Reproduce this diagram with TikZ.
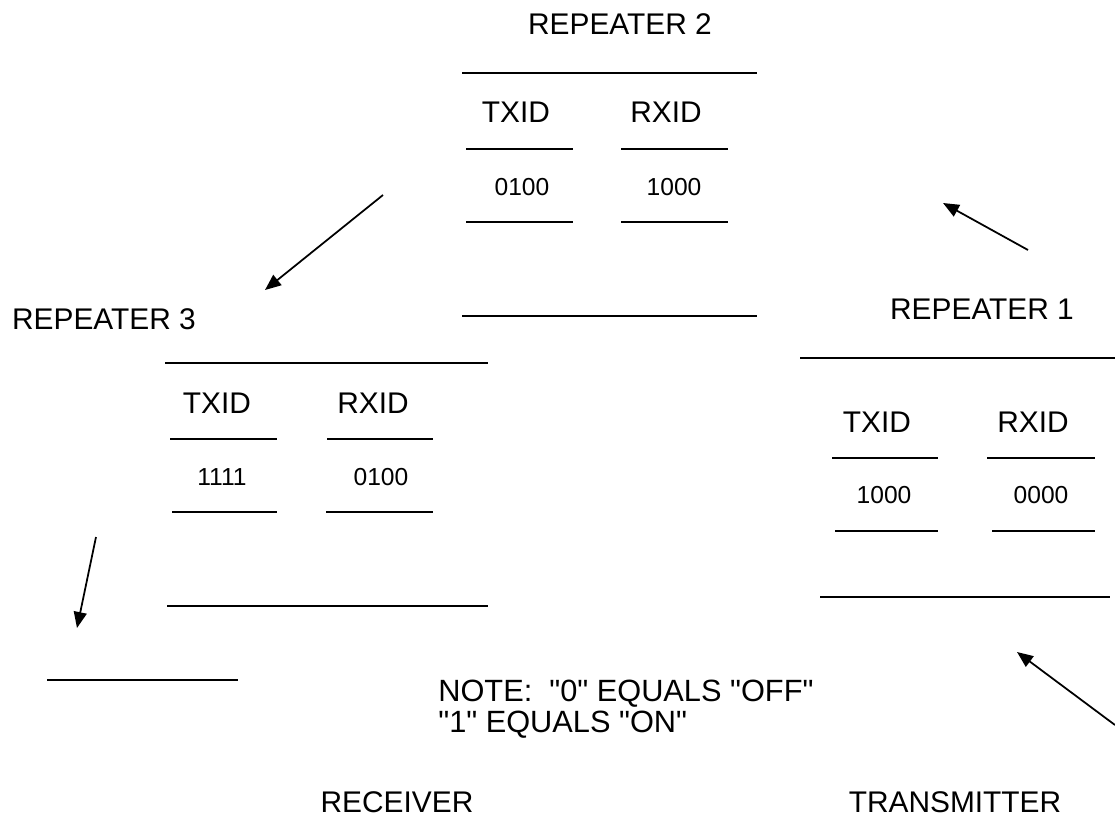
\documentclass[tikz,border=0pt]{standalone}
\usepackage{fontspec}
\setmainfont{Liberation Sans}
\usetikzlibrary{arrows.meta}
\tikzset{
  ttl/.style  = {inner sep=0pt, font=\fontsize{17}{20}\selectfont},
  fld/.style  = {inner sep=0pt, font=\fontsize{17}{20}\selectfont},
  val/.style  = {inner sep=0pt, font=\fontsize{14}{16}\selectfont},
  rule/.style = {line width=0.8pt},
  arr/.style  = {-{Stealth[length=3.2mm, width=2.6mm, inset=0pt]}, line width=1pt},
}

\begin{document}
\begin{tikzpicture}[x=0.02cm, y=-0.02cm]
  \useasboundingbox (0,0) rectangle (1115,838);

  % repeater 2
  \node[ttl] (rp2)   at (620,24)  {REPEATER 2};
  \node[fld] (rp2tx) at (516,112) {TXID};
  \node[fld] (rp2rx) at (666,112) {RXID};
  \node[val] (rp2tv) at (522,187) {0100};
  \node[val] (rp2rv) at (674,187) {1000};
  \draw[rule] (462,73) -- (757,73)  (462,316) -- (757,316);
  \draw[rule] (466,149) -- (573,149) (466,222) -- (573,222);
  \draw[rule] (621,149) -- (728,149) (621,222) -- (728,222);

  % repeater 3
  \node[ttl] (rp3)   at (104,319) {REPEATER 3};
  \node[fld] (rp3tx) at (217,403) {TXID};
  \node[fld] (rp3rx) at (373,403) {RXID};
  \node[val] (rp3tv) at (222,477) {1111};
  \node[val] (rp3rv) at (381,477) {0100};
  \draw[rule] (165,363) -- (488,363)  (167,606) -- (488,606);
  \draw[rule] (170,439) -- (277,439) (172,512) -- (277,512);
  \draw[rule] (327,439) -- (433,439) (326,512) -- (433,512);

  % repeater 1
  \node[ttl] (rp1)   at (982,309) {REPEATER 1};
  \node[fld] (rp1tx) at (877,422) {TXID};
  \node[fld] (rp1rx) at (1033,422) {RXID};
  \node[val] (rp1tv) at (884,495) {1000};
  \node[val] (rp1rv) at (1041,495) {0000};
  \draw[rule] (800,358) -- (1115,358)  (820,597) -- (1110,597);
  \draw[rule] (832,458) -- (938,458) (835,531) -- (938,531);
  \draw[rule] (987,458) -- (1095,458) (992,531) -- (1095,531);

  % receiver
  \draw[rule] (47,680) -- (238,680);

  % arrows
  \coordinate (a1s) at (383,195);  \coordinate (a1e) at (265,290);
  \coordinate (a2s) at (1028,250); \coordinate (a2e) at (943,203);
  \coordinate (a3s) at (96,537);   \coordinate (a3e) at (77,628);
  \coordinate (a4s) at (1115,725); \coordinate (a4e) at (1017,652);
  \draw[arr] (a1s) -- (a1e);
  \draw[arr] (a2s) -- (a2e);
  \draw[arr] (a3s) -- (a3e);
  \draw[arr] (a4s) -- (a4e);

  \node[fld, anchor=west, align=left, font=\fontsize{17.5}{17.8}\selectfont]
        (note) at (438,709) {NOTE:\ \ \textquotedbl0\textquotedbl{} EQUALS \textquotedbl OFF\textquotedbl\\\textquotedbl1\textquotedbl{} EQUALS \textquotedbl ON\textquotedbl};
  \node[ttl] (rcv) at (397,802) {RECEIVER};
  \node[ttl] (tmt) at (955,802) {TRANSMITTER};

\end{tikzpicture}
\end{document}
